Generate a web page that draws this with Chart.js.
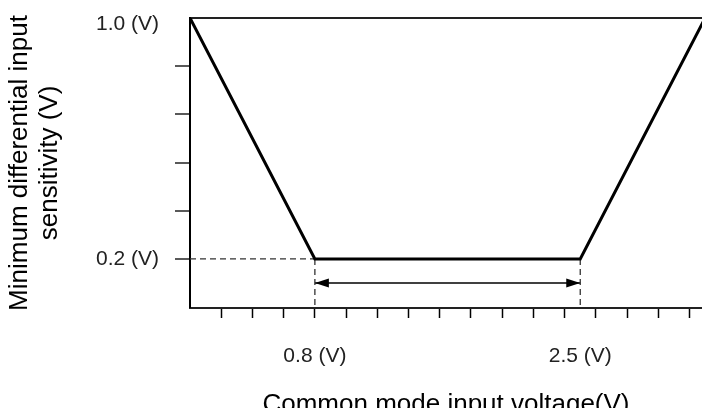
<!DOCTYPE html>
<html>
<head>
<meta charset="utf-8">
<script src="https://cdn.jsdelivr.net/npm/chart.js@4"></script>
<style>
  html, body { margin: 0; padding: 0; background: #fff; }
  #wrap { width: 702px; height: 408px; }
</style>
</head>
<body>
<div id="wrap"><canvas id="sensChart"></canvas></div>
<script>
// Threshold curve (common mode voltage -> minimum sensitivity)
const curveVolts = [0, 0.8, 2.5, 3.3];
const curveSens = [1.0, 0.2, 0.2, 1.0];

// Operating range markers
const rangeStart = 0.8;
const rangeEnd = 2.5;
const rangeLevel = 0.2;
const arrowLevel = 0.12;

// Axis limits and ticks
const xMin = 0, xMax = 3.28;
const yMin = 0.037, yMax = 1.0;
const xTicks = [0.2, 0.4, 0.6, 0.8, 1.0, 1.2, 1.4, 1.6, 1.8, 2.0, 2.2, 2.4, 2.5, 2.6, 2.8, 3.0, 3.2];
const xLabels = { 0.8: '0.8 (V)', 2.5: '2.5 (V)' };
const yTicks = [0.2, 0.36, 0.52, 0.68, 0.84, 1.0];
const yLabels = { 0.2: '0.2 (V)', 1.0: '1.0 (V)' };

const FONT = "'Liberation Sans', Arial, sans-serif";

// draws filled arrow heads at both ends of the range dataset
const arrowHeads = {
  id: 'arrowHeads',
  afterDatasetsDraw(chart) {
    chart.data.datasets.forEach((ds, i) => {
      if (!ds.arrows) return;
      const pts = chart.getDatasetMeta(i).data;
      const ctx = chart.ctx;
      const len = 14, half = 4.5;
      ctx.save();
      ctx.fillStyle = '#000';
      [[pts[0], pts[1]], [pts[pts.length - 1], pts[pts.length - 2]]].forEach(([tip, from]) => {
        const a = Math.atan2(tip.y - from.y, tip.x - from.x);
        ctx.beginPath();
        ctx.moveTo(tip.x, tip.y);
        ctx.lineTo(tip.x - len * Math.cos(a) - half * Math.sin(a), tip.y - len * Math.sin(a) + half * Math.cos(a));
        ctx.lineTo(tip.x - len * Math.cos(a) + half * Math.sin(a), tip.y - len * Math.sin(a) - half * Math.cos(a));
        ctx.closePath();
        ctx.fill();
      });
      ctx.restore();
    });
  }
};

const dashed = { borderColor: '#333', borderWidth: 1.3, borderDash: [6, 4], pointRadius: 0, fill: false };

const ctx = document.getElementById('sensChart').getContext('2d');
new Chart(ctx, {
  type: 'line',
  data: {
    datasets: [
      {
        data: curveVolts.map((v, i) => ({ x: v, y: curveSens[i] })),
        borderColor: '#000', borderWidth: 3, pointRadius: 0, fill: false
      },
      Object.assign({ data: [{ x: xMin, y: rangeLevel }, { x: rangeStart, y: rangeLevel }] }, dashed),
      Object.assign({ data: [{ x: rangeStart, y: rangeLevel }, { x: rangeStart, y: yMin }] }, dashed),
      Object.assign({ data: [{ x: rangeEnd, y: rangeLevel }, { x: rangeEnd, y: yMin }] }, dashed),
      {
        data: [{ x: rangeStart, y: arrowLevel }, { x: rangeEnd, y: arrowLevel }],
        borderColor: '#000', borderWidth: 1.5, pointRadius: 0, fill: false, arrows: true
      }
    ]
  },
  options: {
    responsive: true,
    maintainAspectRatio: false,
    animation: false,
    layout: { padding: { top: 18, right: 0, left: 0, bottom: 0 } },
    plugins: { legend: { display: false }, tooltip: { enabled: false } },
    scales: {
      x: {
        type: 'linear', min: xMin, max: xMax,
        afterFit: s => { s.height = 100; s.paddingLeft = 0; s.paddingRight = 0; },
        afterBuildTicks: s => { s.ticks = xTicks.map(v => ({ value: v })); },
        border: { color: '#222', width: 2 },
        grid: {
          drawOnChartArea: false, tickLength: 10, tickWidth: 1.5,
          tickColor: c => (c.tick && c.tick.value === rangeEnd) ? 'rgba(0,0,0,0)' : '#000'
        },
        ticks: {
          autoSkip: false, maxRotation: 0, padding: 26, color: '#222',
          font: { family: FONT, size: 21 },
          callback: v => xLabels[v] || ''
        },
        title: {
          display: true, text: 'Common mode input voltage(V)', color: '#000',
          font: { family: FONT, size: 26, lineHeight: 1 }, padding: { top: 0, bottom: -10 }
        }
      },
      y: {
        type: 'linear', min: yMin, max: yMax,
        afterFit: s => { s.width = 190; s.paddingTop = 0; s.paddingBottom = 0; },
        afterBuildTicks: s => { s.ticks = yTicks.map(v => ({ value: v })); },
        border: { color: '#000', width: 2 },
        grid: {
          drawOnChartArea: true, tickLength: 15, tickWidth: 1.5,
          lineWidth: c => (c.tick && c.tick.value === yMax) ? 2 : 0,
          color: c => (c.tick && c.tick.value === yMax) ? '#222' : 'rgba(0,0,0,0)',
          tickColor: c => (c.tick && c.tick.value === yMax) ? 'rgba(0,0,0,0)' : '#222'
        },
        ticks: {
          autoSkip: false, padding: 16, color: '#222',
          font: c => ({ family: FONT, size: 21, lineHeight: (c.tick && c.tick.value === yMax) ? 0.55 : 1.2 }),
          callback: v => v === yMax ? ['', yLabels[v]] : (yLabels[v] || '')
        },
        title: {
          display: true, text: ['Minimum differential input', 'sensitivity (V)'], color: '#000',
          font: { family: FONT, size: 26, lineHeight: 1.15 }, padding: { top: 5, bottom: 0 }
        }
      }
    }
  },
  plugins: [arrowHeads]
});
</script>
</body>
</html>
